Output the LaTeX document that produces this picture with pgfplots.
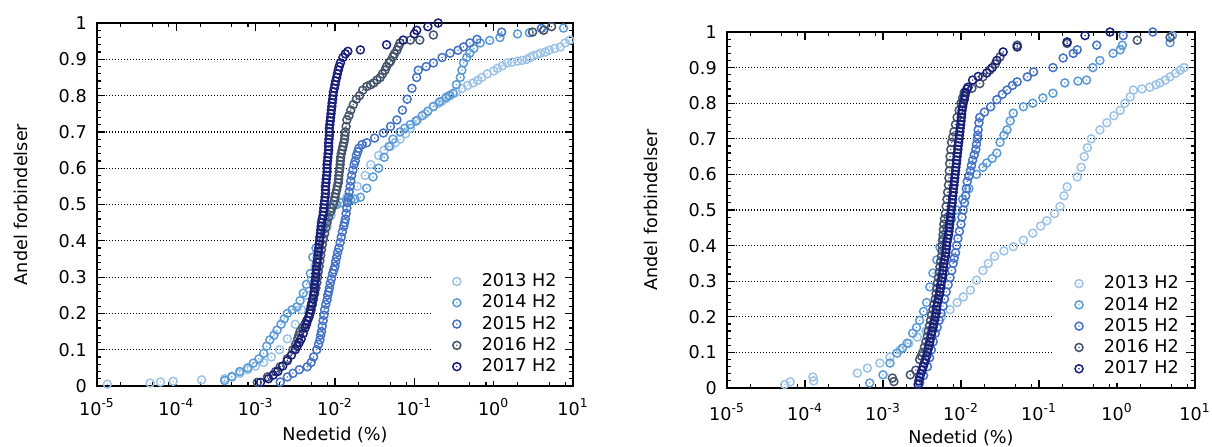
\documentclass[border=0pt]{standalone}
\usepackage{fontspec}
\setmainfont{DejaVu Sans}
\usepackage{pgfplots}
\pgfplotsset{compat=1.18}

\definecolor{c13}{RGB}{157,195,230}
\definecolor{c14}{RGB}{91,155,213}
\definecolor{c15}{RGB}{68,114,196}
\definecolor{c16}{RGB}{68,84,106}
\definecolor{c17}{RGB}{24,30,122}

% circle with a dot in the middle
\pgfdeclareplotmark{odot}{%
  \pgfpathcircle{\pgfpointorigin}{\pgfplotmarksize}\pgfusepathqstroke
  \pgfpathcircle{\pgfpointorigin}{0.2\pgfplotmarksize}\pgfusepathqfill}

\newcommand{\fnt}{\fontsize{8.8}{10}\selectfont}

\begin{document}
\fnt
\begin{tikzpicture}[font=\fnt]
\useasboundingbox (0,0) rectangle (606pt,223pt);

% ---------------- left panel ----------------
\begin{axis}[at={(48.5pt,30pt)}, anchor=south west,
  width=238pt, height=181.5pt,
  scale only axis, clip=false,
  xmode=log, xmin=1e-5, xmax=10, ymin=0, ymax=1,
  axis line style={line width=0.8pt},
  xtick={1e-5,1e-4,1e-3,1e-2,1e-1,1,10},
  xticklabels={10\textsuperscript{-5},10\textsuperscript{-4},10\textsuperscript{-3},10\textsuperscript{-2},10\textsuperscript{-1},10\textsuperscript{0},10\textsuperscript{1}},
  minor xtick={2e-5,5e-5,8e-5,2e-4,5e-4,8e-4,2e-3,5e-3,8e-3,2e-2,5e-2,8e-2,0.2,0.5,0.8,2,5,8},
  ytick={0,0.1,0.2,0.3,0.4,0.5,0.6,0.7,0.8,0.9,1},
  yticklabels={0,0.1,0.2,0.3,0.4,0.5,0.6,0.7,0.8,0.9,1},
  minor y tick num=4,
  tick align=inside, xtick pos=both, ytick pos=both,
  xticklabel pos=lower, yticklabel pos=left,
  major tick length=4pt, minor tick length=2.2pt,
  every tick/.append style={black, line width=0.6pt},
  ymajorgrids,
  major grid style={black, line width=0.6pt, dash pattern=on 0.6pt off 0.9pt},
  tick label style={font=\fnt},
  yticklabel style={anchor=east, xshift=-2pt},
  xticklabel style={anchor=base, yshift=-14.5pt},
  xlabel={Nedetid (\%)}, ylabel={Andel forbindelser},
  every axis x label/.style={at={(axis description cs:0.5,0)}, anchor=center, yshift=-24.5pt, font=\fnt},
  every axis y label/.style={at={(axis description cs:-0.16,0.5)}, anchor=center, rotate=90, font=\fnt},
  mark size=2pt,
  every axis plot/.append style={only marks, mark=odot, line width=0.75pt,
    legend image code/.code={\path (0cm,0cm) (0.75cm,0cm); \draw[##1] plot coordinates {(0.36cm,0cm)};}},
  legend style={at={(axis description cs:0.979,0.014)}, anchor=south east,
    fill=white, draw=none, inner sep=2pt, row sep=0.8pt, font=\fnt,
    nodes={inner sep=1pt}},
  legend cell align=left]

\addplot[c13] coordinates {
(1.35e-5,.005)(4.68e-5,.008)(6.31e-5,.011)(9.12e-5,.013)(2.09e-4,.017)(4.07e-4,.02)
(5.01e-4,.027)(6.31e-4,.035)(7.94e-4,.045)(1.0e-3,.055)(1.26e-3,.065)(1.58e-3,.08)
(2.0e-3,.1)(2.51e-3,.13)(3.16e-3,.17)(3.8e-3,.21)(4.37e-3,.25)(5.01e-3,.29)
(5.62e-3,.33)(6.31e-3,.37)(7.08e-3,.41)(7.94e-3,.44)(8.91e-3,.47)(1.05e-2,.5)
(1.41e-2,.52)(1.91e-2,.55)(2.4e-2,.58)(2.82e-2,.61)(3.55e-2,.635)(4.17e-2,.65)
(5.01e-2,.66)(5.75e-2,.67)(6.61e-2,.68)(7.76e-2,.695)(8.91e-2,.71)(0.11,.733)
(0.138,.75)(0.174,.77)(0.2,.778)(0.224,.785)(0.251,.792)(0.282,.8)(0.339,.81)
(0.398,.82)(0.468,.828)(0.55,.835)(0.631,.842)(0.708,.85)(0.832,.86)(1.0,.868)
(1.12,.875)(1.29,.882)(1.48,.89)(1.7,.892)(2.0,.895)(2.29,.897)(2.63,.9)(2.88,.905)
(3.16,.91)(3.55,.913)(3.89,.917)(4.47,.92)(5.01,.925)(5.89,.93)(6.92,.934)
(7.94,.945)(9.12,.953)
};
\addplot[c14] coordinates {
(4.07e-4,.015)(5.01e-4,.025)(6.31e-4,.04)(7.94e-4,.05)(9.33e-4,.063)(1.1e-3,.075)
(1.26e-3,.09)(1.38e-3,.11)(1.51e-3,.127)(1.7e-3,.14)(1.86e-3,.154)(2.09e-3,.17)
(2.29e-3,.185)(2.51e-3,.2)(2.88e-3,.21)(3.31e-3,.218)(3.63e-3,.235)(3.98e-3,.256)
(4.37e-3,.28)(4.9e-3,.31)(5.25e-3,.355)(5.75e-3,.38)(6.46e-3,.41)(7.08e-3,.435)
(7.94e-3,.457)(8.91e-3,.48)(1.05e-2,.5)(1.2e-2,.505)(1.41e-2,.51)(1.58e-2,.512)
(1.78e-2,.515)(2.09e-2,.52)(2.51e-2,.545)(3.02e-2,.576)(3.55e-2,.6)(4.17e-2,.63)
(4.79e-2,.66)(5.37e-2,.68)(6.61e-2,.7)(7.59e-2,.71)(8.91e-2,.72)(0.105,.73)
(0.126,.745)(0.148,.757)(0.174,.77)(0.209,.783)(0.251,.795)(0.275,.8)(0.309,.806)
(0.339,.83)(0.38,.85)(0.398,.87)(0.417,.89)(0.457,.905)(0.501,.917)(0.562,.93)
(0.676,.945)(0.891,.952)(1.2,.96)(2.0,.97)(2.82,.973)(7.59,.986)
};
\addplot[c15] coordinates {
(2.04e-3,.011)(2.51e-3,.025)(2.95e-3,.035)(3.55e-3,.045)(4.47e-3,.053)(5.01e-3,.065)
(5.37e-3,.08)(5.89e-3,.1)(6.46e-3,.127)(6.76e-3,.15)(7.08e-3,.18)(7.41e-3,.21)
(7.94e-3,.237)(8.32e-3,.26)(8.71e-3,.283)(9.33e-3,.31)(1.0e-2,.33)(1.05e-2,.355)
(1.12e-2,.38)(1.2e-2,.41)(1.29e-2,.44)(1.35e-2,.46)(1.41e-2,.49)(1.48e-2,.52)
(1.55e-2,.55)(1.62e-2,.58)(1.74e-2,.61)(1.86e-2,.635)(2.0e-2,.655)(2.19e-2,.665)
(2.51e-2,.67)(3.16e-2,.683)(4.07e-2,.697)(5.01e-2,.715)(6.03e-2,.733)(7.08e-2,.76)
(8.13e-2,.79)(9.33e-2,.82)(0.107,.85)(0.112,.87)(0.141,.88)(0.174,.89)(0.224,.905)
(0.282,.917)(0.355,.925)(0.417,.934)(0.501,.945)(0.617,.955)(1.26,.975)(4.0,.985)
(6.2e-3,.115)(6.6e-3,.14)(6.9e-3,.165)(7.25e-3,.195)(7.65e-3,.225)(8.1e-3,.25)
(8.5e-3,.27)(9.0e-3,.295)(9.65e-3,.32)(1.02e-2,.343)(1.08e-2,.368)(1.16e-2,.395)
(1.24e-2,.425)(1.32e-2,.45)(1.38e-2,.475)(1.44e-2,.505)(1.51e-2,.535)(1.58e-2,.565)
(1.68e-2,.595)(1.8e-2,.62)(1.93e-2,.645)
};
\addplot[c16] coordinates {
(1.05e-3,.01)(1.41e-3,.025)(1.78e-3,.04)(2.04e-3,.053)(2.51e-3,.075)(2.95e-3,.1)
(3.39e-3,.13)(3.63e-3,.15)(4.17e-3,.17)(4.68e-3,.19)(5.01e-3,.21)(5.37e-3,.24)
(5.75e-3,.27)(6.03e-3,.3)(6.31e-3,.33)(6.61e-3,.36)(6.92e-3,.39)(7.41e-3,.42)
(7.94e-3,.45)(8.71e-3,.48)(9.55e-3,.5)(1.0e-2,.52)(1.05e-2,.54)(1.1e-2,.56)
(1.12e-2,.58)(1.15e-2,.6)(1.17e-2,.62)(1.2e-2,.64)(1.26e-2,.66)(1.32e-2,.68)
(1.35e-2,.7)(1.38e-2,.715)(1.41e-2,.733)(1.58e-2,.76)(1.7e-2,.775)(1.86e-2,.79)
(2.04e-2,.8)(2.24e-2,.815)(2.51e-2,.825)(2.82e-2,.83)(3.09e-2,.835)(3.39e-2,.843)
(3.72e-2,.85)(3.98e-2,.86)(4.27e-2,.87)(4.47e-2,.88)(4.79e-2,.89)(5.01e-2,.895)
(5.37e-2,.907)(5.62e-2,.915)(6.03e-2,.925)(6.31e-2,.935)(6.61e-2,.945)(8.91e-2,.953)
(0.117,.953)(0.174,.967)(3.09,.975)(4.27,.98)(5.37,.99)
(3.2e-3,.115)(3.5e-3,.14)(3.9e-3,.16)(4.4e-3,.18)(4.85e-3,.2)(5.2e-3,.225)
(5.55e-3,.255)(5.9e-3,.285)(6.15e-3,.315)(6.45e-3,.345)(6.75e-3,.375)(7.15e-3,.405)
(7.65e-3,.435)(8.3e-3,.465)(9.1e-3,.49)(9.8e-3,.51)(1.02e-2,.53)(1.07e-2,.55)
(1.11e-2,.57)(1.13e-2,.59)(1.16e-2,.61)(1.18e-2,.63)(1.23e-2,.65)(1.29e-2,.67)
(1.33e-2,.69)(1.5e-2,.745)
};
\addplot[c17] coordinates {
(1.15e-3,.01)(1.45e-3,.02)(1.66e-3,.03)(1.9e-3,.04)(2.19e-3,.055)(2.51e-3,.07)
(2.82e-3,.085)(3.16e-3,.1)(3.55e-3,.12)(3.98e-3,.145)(4.37e-3,.17)(4.68e-3,.19)
(4.9e-3,.21)(5.13e-3,.23)(5.37e-3,.25)(5.5e-3,.27)(5.62e-3,.29)(5.75e-3,.31)
(5.89e-3,.33)(6.03e-3,.35)(6.17e-3,.37)(6.31e-3,.39)(6.46e-3,.41)(6.61e-3,.43)
(6.76e-3,.45)(7.08e-3,.47)(7.24e-3,.49)(7.41e-3,.51)(7.59e-3,.53)(7.59e-3,.55)
(7.76e-3,.57)(7.94e-3,.59)(7.94e-3,.61)(8.13e-3,.63)(8.32e-3,.65)(8.32e-3,.67)
(8.51e-3,.69)(8.51e-3,.71)(8.71e-3,.73)(8.91e-3,.75)(9.12e-3,.77)(9.33e-3,.79)
(9.55e-3,.81)(1.0e-2,.83)(1.05e-2,.85)(1.1e-2,.87)(1.17e-2,.89)(1.26e-2,.905)
(1.35e-2,.915)(1.45e-2,.922)(2.09e-2,.926)(4.47e-2,.94)(7.24e-2,.953)(0.1,.97)
(0.107,.98)(0.148,.99)(0.2,1.0)
(3.35e-3,.11)(3.75e-3,.13)(4.2e-3,.16)(4.5e-3,.18)(4.8e-3,.2)(5.0e-3,.22)
(5.25e-3,.24)(5.45e-3,.26)(5.55e-3,.28)(5.7e-3,.3)(5.8e-3,.32)(5.95e-3,.34)
(6.1e-3,.36)(6.25e-3,.38)(6.4e-3,.4)(6.55e-3,.42)(6.7e-3,.44)(6.9e-3,.46)
(7.15e-3,.48)(7.3e-3,.5)(7.5e-3,.52)(7.6e-3,.54)(7.7e-3,.56)(7.85e-3,.58)
(7.94e-3,.6)(8.05e-3,.62)(8.2e-3,.64)(8.3e-3,.66)(8.4e-3,.68)(8.5e-3,.7)
(8.6e-3,.72)(8.8e-3,.74)(9.0e-3,.76)(9.2e-3,.78)(9.45e-3,.8)(9.8e-3,.82)
(1.02e-2,.84)(1.07e-2,.86)(1.13e-2,.88)
};
\legend{2013 H2,2014 H2,2015 H2,2016 H2,2017 H2}
\end{axis}

% ---------------- right panel ----------------
\begin{axis}[at={(363.5pt,29pt)}, anchor=south west,
  width=234pt, height=178pt,
  scale only axis, clip=false,
  xmode=log, xmin=1e-5, xmax=10, ymin=0, ymax=1,
  axis line style={line width=0.8pt},
  xtick={1e-5,1e-4,1e-3,1e-2,1e-1,1,10},
  xticklabels={10\textsuperscript{-5},10\textsuperscript{-4},10\textsuperscript{-3},10\textsuperscript{-2},10\textsuperscript{-1},10\textsuperscript{0},10\textsuperscript{1}},
  minor xtick={2e-5,5e-5,8e-5,2e-4,5e-4,8e-4,2e-3,5e-3,8e-3,2e-2,5e-2,8e-2,0.2,0.5,0.8,2,5,8},
  ytick={0,0.1,0.2,0.3,0.4,0.5,0.6,0.7,0.8,0.9,1},
  yticklabels={0,0.1,0.2,0.3,0.4,0.5,0.6,0.7,0.8,0.9,1},
  minor y tick num=4,
  tick align=inside, xtick pos=both, ytick pos=both,
  xticklabel pos=lower, yticklabel pos=left,
  major tick length=4pt, minor tick length=2.2pt,
  every tick/.append style={black, line width=0.6pt},
  ymajorgrids,
  major grid style={black, line width=0.6pt, dash pattern=on 0.6pt off 0.9pt},
  tick label style={font=\fnt},
  yticklabel style={anchor=east, xshift=-2pt},
  xticklabel style={anchor=base, yshift=-16.3pt},
  xlabel={Nedetid (\%)}, ylabel={Andel forbindelser},
  every axis x label/.style={at={(axis description cs:0.5,0)}, anchor=center, yshift=-25pt, font=\fnt},
  every axis y label/.style={at={(axis description cs:-0.1624,0.5)}, anchor=center, rotate=90, font=\fnt},
  mark size=2pt,
  every axis plot/.append style={only marks, mark=odot, line width=0.75pt,
    legend image code/.code={\path (0cm,0cm) (0.75cm,0cm); \draw[##1] plot coordinates {(0.36cm,0cm)};}},
  legend style={at={(axis description cs:0.979,0.014)}, anchor=south east,
    fill=white, draw=none, inner sep=2pt, row sep=0.8pt, font=\fnt,
    nodes={inner sep=1pt}},
  legend cell align=left]

\addplot[c13] coordinates {
(5.5e-5,.01)(6.46e-5,.017)(1.26e-4,.031)(1.29e-4,.02)(4.68e-4,.042)(6.31e-4,.056)
(9.12e-4,.07)(1.23e-3,.087)(1.66e-3,.107)(2.14e-3,.125)(2.75e-3,.143)(3.55e-3,.16)
(4.47e-3,.18)(5.62e-3,.2)(7.24e-3,.22)(8.91e-3,.24)(1.07e-2,.256)(1.32e-2,.275)
(1.58e-2,.303)(1.91e-2,.33)(2.24e-2,.35)(2.69e-2,.37)(3.55e-2,.385)(4.68e-2,.397)
(6.31e-2,.415)(8.32e-2,.435)(0.105,.455)(0.126,.47)(0.158,.49)(0.186,.51)
(0.209,.54)(0.229,.565)(0.309,.593)(0.347,.62)(0.38,.65)(0.417,.675)(0.468,.7)
(0.603,.725)(0.741,.745)(0.912,.765)(1.1,.78)(1.26,.8)(1.48,.818)(1.62,.837)
(2.09,.84)(2.63,.845)(3.16,.852)(3.55,.857)(4.17,.865)(4.79,.874)(5.62,.884)
(6.46,.893)(7.24,.9)
};
\addplot[c14] coordinates {
(6.76e-4,.014)(1.0e-3,.037)(1.23e-3,.07)(1.51e-3,.098)(1.78e-3,.112)(2.04e-3,.126)
(2.4e-3,.154)(2.69e-3,.17)(2.95e-3,.19)(3.31e-3,.215)(3.63e-3,.24)(3.98e-3,.284)
(4.37e-3,.323)(4.9e-3,.36)(5.37e-3,.396)(5.89e-3,.42)(6.61e-3,.45)(7.59e-3,.475)
(8.71e-3,.5)(1.05e-2,.53)(1.26e-2,.56)(1.58e-2,.6)(1.91e-2,.62)(2.14e-2,.632)
(2.51e-2,.645)(2.88e-2,.66)(3.16e-2,.69)(3.55e-2,.71)(3.89e-2,.725)(4.27e-2,.75)
(4.68e-2,.772)(6.31e-2,.79)(8.32e-2,.8)(0.112,.815)(0.151,.828)(0.214,.857)
(0.316,.862)(0.407,.865)(0.49,.9)(0.603,.92)(0.891,.94)(1.1,.95)(1.17,.963)
(4.79,.97)(5.13,.99)
};
\addplot[c15] coordinates {
(2.95e-3,.014)(3.31e-3,.035)(3.72e-3,.06)(4.17e-3,.107)(4.68e-3,.154)(5.25e-3,.19)
(5.89e-3,.23)(6.46e-3,.27)(7.24e-3,.31)(7.94e-3,.35)(8.51e-3,.38)(9.12e-3,.42)
(1.0e-2,.46)(1.07e-2,.5)(1.15e-2,.54)(1.2e-2,.58)(1.32e-2,.61)(1.41e-2,.64)
(1.55e-2,.67)(1.62e-2,.7)(1.66e-2,.725)(1.74e-2,.76)(2.0e-2,.775)(2.4e-2,.79)
(2.88e-2,.81)(3.39e-2,.825)(3.89e-2,.837)(4.57e-2,.85)(5.25e-2,.86)(7.08e-2,.874)
(8.51e-2,.888)(0.151,.9)(0.204,.927)(0.275,.94)(0.309,.95)(0.55,.963)(1.2,.99)
(2.88,1.0)
(3.95e-3,.085)(4.4e-3,.13)(4.95e-3,.17)(5.55e-3,.21)(6.15e-3,.25)(6.85e-3,.29)
(7.6e-3,.33)(8.2e-3,.365)(8.8e-3,.4)(9.55e-3,.44)(1.03e-2,.48)(1.11e-2,.52)
(1.17e-2,.56)(1.26e-2,.595)(1.36e-2,.625)(1.48e-2,.655)(1.58e-2,.685)(1.64e-2,.71)
(1.7e-2,.745)
};
\addplot[c16] coordinates {
(1.32e-3,.028)(1.38e-3,.018)(2.24e-3,.037)(2.63e-3,.05)(2.95e-3,.08)(3.24e-3,.1)
(3.55e-3,.13)(3.8e-3,.16)(4.07e-3,.19)(4.37e-3,.22)(4.68e-3,.25)(4.9e-3,.28)
(5.13e-3,.31)(5.37e-3,.34)(5.62e-3,.37)(5.75e-3,.4)(5.89e-3,.43)(6.03e-3,.46)
(6.31e-3,.49)(6.61e-3,.53)(6.92e-3,.57)(7.08e-3,.61)(7.24e-3,.65)(7.59e-3,.69)
(8.13e-3,.72)(8.91e-3,.76)(1.0e-2,.8)(1.1e-2,.83)(1.38e-2,.842)(1.74e-2,.855)
(1.91e-2,.874)(2.34e-2,.893)(2.75e-2,.91)(3.16e-2,.93)(5.25e-2,.963)(0.229,.968)
(1.82,.977)(4.79,.985)
(3.1e-3,.09)(3.4e-3,.115)(3.7e-3,.145)(3.95e-3,.175)(4.2e-3,.205)(4.5e-3,.235)
(4.8e-3,.265)(5.0e-3,.295)(5.25e-3,.325)(5.5e-3,.355)(5.7e-3,.385)(5.8e-3,.415)
(5.95e-3,.445)(6.15e-3,.475)(6.45e-3,.51)(6.75e-3,.55)(7.0e-3,.59)(7.15e-3,.63)
(7.4e-3,.67)(7.85e-3,.705)(8.5e-3,.74)(9.45e-3,.78)(1.05e-2,.815)
};
\addplot[c17] coordinates {
(2.82e-3,.01)(2.95e-3,.03)(3.16e-3,.05)(3.39e-3,.07)(3.63e-3,.09)(3.8e-3,.11)
(3.98e-3,.13)(4.17e-3,.15)(4.37e-3,.17)(4.57e-3,.19)(4.79e-3,.21)(4.9e-3,.23)
(5.13e-3,.25)(5.37e-3,.27)(5.5e-3,.29)(5.75e-3,.31)(5.89e-3,.33)(6.03e-3,.35)
(6.31e-3,.37)(6.46e-3,.39)(6.61e-3,.41)(6.92e-3,.43)(7.08e-3,.45)(7.24e-3,.47)
(7.41e-3,.49)(7.59e-3,.51)(7.76e-3,.53)(7.94e-3,.55)(8.13e-3,.57)(8.32e-3,.59)
(8.51e-3,.61)(8.71e-3,.63)(8.91e-3,.65)(9.12e-3,.67)(9.33e-3,.69)(9.55e-3,.71)
(9.77e-3,.73)(1.0e-2,.75)(1.02e-2,.77)(1.05e-2,.79)(1.1e-2,.81)(1.15e-2,.83)
(1.23e-2,.845)(1.41e-2,.865)(1.66e-2,.875)(2.14e-2,.885)(2.51e-2,.9)(2.88e-2,.92)
(3.47e-2,.944)(5.25e-2,.958)(0.229,.972)(0.389,.99)(0.813,1.0)
(2.88e-3,.02)(3.05e-3,.04)(3.27e-3,.06)(3.5e-3,.08)(3.7e-3,.1)(3.9e-3,.12)
(4.07e-3,.14)(4.27e-3,.16)(4.47e-3,.18)(4.68e-3,.2)(4.85e-3,.22)(5.0e-3,.24)
(5.25e-3,.26)(5.45e-3,.28)(5.6e-3,.3)(5.8e-3,.32)(5.95e-3,.34)(6.15e-3,.36)
(6.4e-3,.38)(6.55e-3,.4)(6.75e-3,.42)(7.0e-3,.44)(7.15e-3,.46)(7.3e-3,.48)
(7.5e-3,.5)(7.7e-3,.52)(7.85e-3,.54)(8.0e-3,.56)(8.2e-3,.58)(8.4e-3,.6)
(8.6e-3,.62)(8.8e-3,.64)(9.0e-3,.66)(9.2e-3,.68)(9.45e-3,.7)(9.65e-3,.72)
(9.9e-3,.74)(1.01e-2,.76)(1.03e-2,.78)(1.07e-2,.8)(1.12e-2,.82)(1.19e-2,.84)
};
\legend{2013 H2,2014 H2,2015 H2,2016 H2,2017 H2}
\end{axis}
\end{tikzpicture}
\end{document}
